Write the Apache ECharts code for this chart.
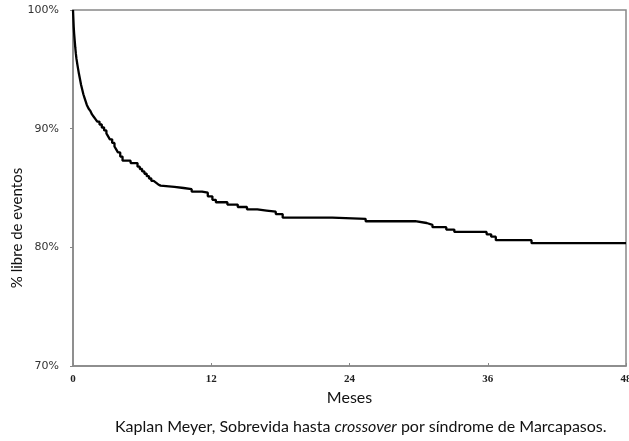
<!DOCTYPE html>
<html>
<head>
<meta charset="utf-8">
<script src="https://cdn.jsdelivr.net/npm/echarts@6/dist/echarts.min.js"></script>
<style>
  html, body { margin: 0; padding: 0; background: #fff; }
  #km { width: 629px; height: 441px; }
</style>
</head>
<body>
<div id="km"></div>
<script>
// meses (tiempo del evento) y % libre de eventos
var meses = [0, 0.03, 0.06, 0.1, 0.15, 0.2, 0.25, 0.3, 0.38, 0.45, 0.52, 0.6, 0.7, 0.8, 0.9, 1.0, 1.1, 1.2,
  1.35, 1.5, 1.65, 1.8, 1.95, 2.1, 2.3, 2.5, 2.7, 2.9, 3.05, 3.2, 3.4, 3.6, 3.75, 3.9, 4.1, 4.3,
  5.0, 5.6, 5.8, 6.0, 6.2, 6.4, 6.6, 6.8, 7.0, 7.2, 7.4, 7.6, 8.8, 9.6, 10.3, 11.2, 11.7, 12.1, 12.4,
  13.4, 14.3, 15.1, 16.0, 16.8, 17.6, 18.2, 22.5, 25.4, 29.7, 30.7, 31.2, 32.4, 33.1, 35.9, 36.3, 36.7,
  39.8, 48];
var libre = [100, 99.3, 98.6, 98, 97.4, 96.8, 96.3, 95.9, 95.4, 95, 94.6, 94.2, 93.7, 93.3, 92.9, 92.6, 92.3, 92.0,
  91.7, 91.5, 91.2, 91.0, 90.8, 90.6, 90.35, 90.1, 89.85, 89.6, 89.35, 89.1, 88.8, 88.5, 88.25, 88.0, 87.65, 87.3,
  87.1, 86.8, 86.6, 86.4, 86.2, 86.0, 85.8, 85.6, 85.45, 85.3, 85.2, 85.1, 85.0, 84.9, 84.7, 84.6, 84.3, 84.0, 83.8,
  83.6, 83.4, 83.2, 83.1, 83.0, 82.8, 82.5, 82.4, 82.2, 82.05, 81.9, 81.7, 81.5, 81.3, 81.1, 80.9, 80.6,
  80.35, 80.35];
var xTicks = [0, 12, 24, 36, 48];
var yTicks = [70, 80, 90, 100];

var puntos = [];
for (var i = 0; i < meses.length; i++) {
  puntos.push([meses[i], libre[i]]);
}

var chart = echarts.init(document.getElementById('km'));
chart.setOption({
  animation: false,
  title: {
    text: '{n|Kaplan Meyer, Sobrevida hasta }{i|crossover}{n| por síndrome de Marcapasos.}',
    left: 110,
    top: 414,
    textStyle: {
      rich: {
        n: { fontFamily: 'Lato', fontSize: 16, color: '#111', fontWeight: 'normal' },
        i: { fontFamily: 'Lato', fontSize: 16, color: '#111', fontWeight: 'normal', fontStyle: 'italic' }
      }
    }
  },
  grid: {
    left: 73, top: 10, right: 3, bottom: 75,
    outerBoundsMode: 'none',
    containLabel: false,
    show: true, borderColor: '#888', borderWidth: 1.5
  },
  xAxis: {
    type: 'value',
    min: 0, max: 48, interval: 12,
    name: 'Meses',
    nameLocation: 'middle',
    nameGap: 24,
    nameMoveOverlap: false,
    nameTextStyle: { fontFamily: 'Lato', fontSize: 16, color: '#111' },
    axisLine: { lineStyle: { color: '#888', width: 1.5 } },
    axisTick: { show: true, inside: true, length: 3, lineStyle: { color: '#888' } },
    splitLine: { show: false },
    axisLabel: {
      color: '#222', fontFamily: 'Liberation Serif', fontSize: 11, fontWeight: 'bold', margin: 8,
      hideOverlap: false,
      formatter: function (v) { return xTicks.indexOf(v) >= 0 ? String(v) : ''; }
    }
  },
  yAxis: {
    type: 'value',
    min: 70, max: 100, interval: 10,
    name: '% libre de eventos',
    nameLocation: 'middle',
    nameGap: 48,
    nameMoveOverlap: false,
    nameTextStyle: { fontFamily: 'Lato', fontSize: 15, color: '#111', padding: [0, 80, 0, 0] },
    axisLine: { show: true, lineStyle: { color: '#888', width: 1.5 } },
    axisTick: { show: true, length: 3, lineStyle: { color: '#888' } },
    splitLine: { show: false },
    axisLabel: {
      color: '#333', fontFamily: 'DejaVu Sans', fontSize: 11, margin: 14,
      formatter: function (v) { return yTicks.indexOf(v) >= 0 ? v + '%' : ''; }
    }
  },
  series: [{
    type: 'line',
    step: 'end',
    data: puntos,
    showSymbol: false,
    lineStyle: { color: '#000', width: 2.3 }
  }]
});
</script>
</body>
</html>
